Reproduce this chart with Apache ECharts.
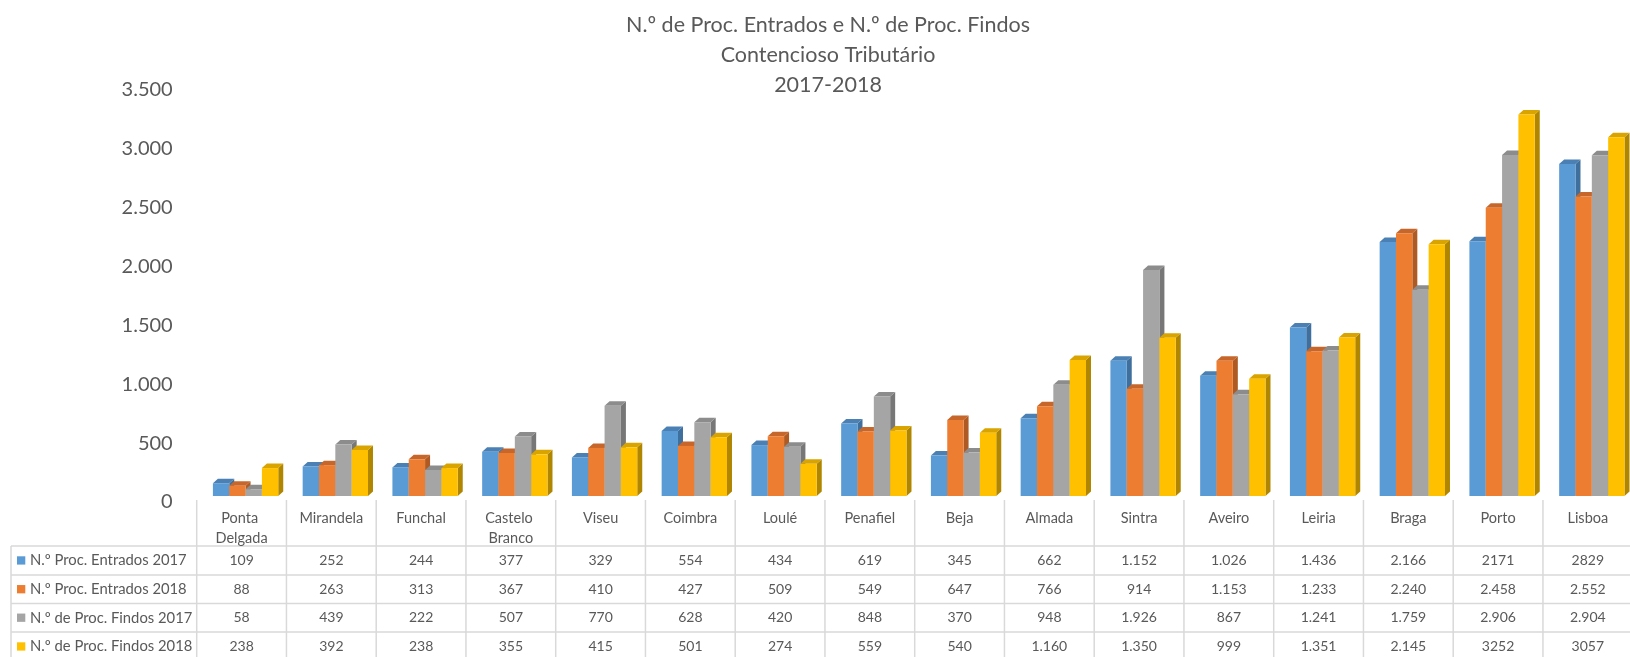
<!DOCTYPE html>
<html><head><meta charset="utf-8">
<script src="https://cdn.jsdelivr.net/npm/echarts@6/dist/echarts.min.js"></script>
<style>html,body{margin:0;padding:0;overflow:hidden;background:#fff;width:1630px;height:657px}#c{width:1640px;height:657px}</style>
</head><body><div id="c"></div>
<script>
const categories = ['Ponta Delgada','Mirandela','Funchal','Castelo Branco','Viseu','Coimbra','Loulé','Penafiel','Beja','Almada','Sintra','Aveiro','Leiria','Braga','Porto','Lisboa'];
const seriesNames = ['N.º Proc. Entrados 2017','N.º Proc. Entrados 2018','N.º de Proc. Findos 2017','N.º de Proc. Findos 2018'];
const entrados2017 = ['109','252','244','377','329','554','434','619','345','662','1.152','1.026','1.436','2.166','2171','2829'];
const entrados2018 = ['88','263','313','367','410','427','509','549','647','766','914','1.153','1.233','2.240','2.458','2.552'];
const findos2017 = ['58','439','222','507','770','628','420','848','370','948','1.926','867','1.241','1.759','2.906','2.904'];
const findos2018 = ['238','392','238','355','415','501','274','559','540','1.160','1.350','999','1.351','2.145','3252','3057'];
const yMin = 0, yMax = 3500, yInterval = 500;
const titleLines = ['N.º de Proc. Entrados e N.º de Proc. Findos','Contencioso Tributário','2017-2018'];

const tableRows = [entrados2017, entrados2018, findos2017, findos2018];
const toNum = s => Number(s.replace(/\./g,''));
const fronts = ['#5b9bd5','#ed7d31','#a5a5a5','#ffc000'];
const sides  = ['#3f6f9d','#ae5a22','#777777','#b08600'];
const tops   = ['#4a80b3','#c7662a','#8c8c8c','#d9a300'];

const FONT = 'Lato';
const TXT = '#595959';
const colLeft = 196.7, colW = 89.75;
const gridLeft = colLeft + 4;
const tableLeft = 11;
const headerTop = 500;
const rowTops = [546, 575, 603.5, 632, 661];

function renderItem(params, api) {
  const s = params.seriesIndex;
  const c = api.value(0), v = api.value(1);
  const top = api.coord([c, v]);
  const base = api.coord([c, 0]);
  const catW = api.size([1, 0])[0];
  const bw = catW * 0.182;
  const x0 = top[0] + (s - 2) * bw;
  const x1 = x0 + bw;
  const yT = top[1], yB = base[1];
  const dx = 5, dy = 4.5;
  return {type:'group', children:[
    {type:'polygon', shape:{points:[[x1,yB],[x1+dx,yB-dy],[x1+dx,yT-dy],[x1,yT]]}, style:{fill:sides[s]}},
    {type:'polygon', shape:{points:[[x0,yT],[x0+dx,yT-dy],[x1+dx,yT-dy],[x1,yT]]}, style:{fill:tops[s]}},
    {type:'rect', shape:{x:x0,y:yT,width:bw,height:yB-yT}, style:{fill:fronts[s]}}
  ]};
}

const graphics = [];
const lineStyle = {stroke:'#d9d9d9', lineWidth:1.5};
rowTops.forEach(y => graphics.push({type:'line', shape:{x1:tableLeft,y1:y,x2:1640,y2:y}, style:lineStyle, silent:true}));
graphics.push({type:'line', shape:{x1:tableLeft,y1:rowTops[0],x2:tableLeft,y2:657}, style:lineStyle, silent:true});
for (let k = 0; k <= categories.length; k++) {
  const x = colLeft + k*colW;
  graphics.push({type:'line', shape:{x1:x,y1:headerTop,x2:x,y2:657}, style:lineStyle, silent:true});
}
categories.forEach((c, i) => {
  graphics.push({type:'text', x: colLeft + (i+0.5)*colW, y: 508, style:{text:c, width:80, overflow:'break', align:'center', verticalAlign:'top', lineHeight:20, font:'14.5px '+FONT, fill:TXT}, silent:true});
});
tableRows.forEach((row, r) => {
  const yc = (rowTops[r] + rowTops[r+1]) / 2;
  graphics.push({type:'rect', shape:{x:17, y:yc-4.2, width:8.3, height:8.3}, style:{fill:fronts[r]}, silent:true});
  graphics.push({type:'text', x:30, y:yc, style:{text:seriesNames[r], align:'left', verticalAlign:'middle', font:'14.8px '+FONT, fill:TXT}, silent:true});
  row.forEach((val, i) => {
    graphics.push({type:'text', x: colLeft + (i+0.5)*colW, y: yc, style:{text:val, align:'center', verticalAlign:'middle', font:'14px '+FONT, fill:TXT}, silent:true});
  });
});

const chart = echarts.init(document.getElementById('c'), null, {renderer:'canvas'});
chart.setOption({
  animation:false,
  backgroundColor:'#fff',
  title:{text:titleLines.join('\n'), left:823, top:5, textAlign:'center',
    textStyle:{fontFamily:FONT, fontSize:21.5, fontWeight:'normal', color:TXT, lineHeight:30}},
  grid:[
    {left:gridLeft, top:85.4, width:colW*16, height:410.6},
    {left:gridLeft, top:90, width:colW*16, height:412}
  ],
  xAxis:[
    {type:'category', gridIndex:0, data:categories, show:false},
    {type:'category', gridIndex:1, data:categories, show:false}
  ],
  yAxis:[
    {type:'value', gridIndex:0, min:yMin, max:yMax, interval:yInterval, show:false},
    {type:'value', gridIndex:1, min:yMin, max:yMax, interval:yInterval,
      axisLine:{show:false}, axisTick:{show:false}, splitLine:{show:false},
      axisLabel:{margin:28, fontFamily:FONT, fontSize:20, color:TXT,
        formatter: v => String(v).replace(/\B(?=(\d{3})+(?!\d))/g,'.')}}
  ],
  series: tableRows.map((row, s) => ({
    type:'custom', name:seriesNames[s], xAxisIndex:0, yAxisIndex:0,
    renderItem, clip:false,
    encode:{x:0, y:1},
    data: row.map((v, i) => [i, toNum(v)])
  })),
  graphic: graphics
});
</script></body></html>
